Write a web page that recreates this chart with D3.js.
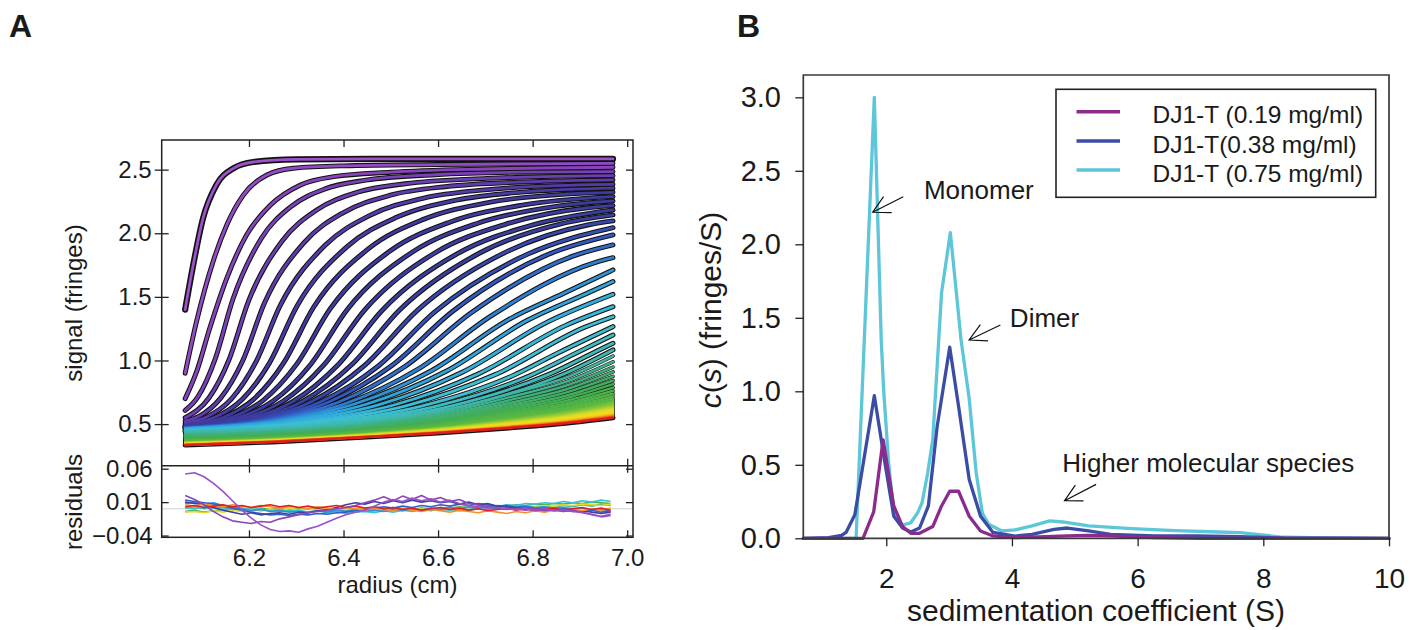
<!DOCTYPE html>
<html><head><meta charset="utf-8">
<script src="https://cdn.jsdelivr.net/npm/d3@7"></script>
<style>body{margin:0;background:#fff}svg{display:block}</style>
</head><body><svg id="chart" width="1410" height="630"></svg>
<script>
// ---------- Panel A: sedimentation velocity scans (radius in cm, signal in fringes) ----------
const scanRadius = [
 [6.065,6.081,6.103,6.131,6.167,6.209,6.3,6.5,6.97],
 [6.065,6.089,6.124,6.153,6.188,6.238,6.294,6.4,6.6,6.97],
 [6.065,6.09,6.117,6.153,6.195,6.245,6.309,6.379,6.5,6.7,6.97],
 [6.065,6.092,6.129,6.166,6.227,6.288,6.361,6.447,6.593,6.776,6.97],
 [6.065,6.116,6.158,6.199,6.271,6.343,6.429,6.53,6.703,6.919,6.97],
 [6.065,6.094,6.14,6.187,6.233,6.316,6.399,6.499,6.615,6.814,6.97],
 [6.065,6.111,6.163,6.215,6.267,6.361,6.455,6.568,6.699,6.925,6.97],
 [6.065,6.129,6.186,6.244,6.302,6.407,6.512,6.638,6.785,6.97],
 [6.065,6.145,6.209,6.273,6.337,6.453,6.569,6.708,6.871,6.97],
 [6.065,6.16,6.23,6.301,6.372,6.499,6.626,6.778,6.97],
 [6.065,6.174,6.252,6.33,6.408,6.546,6.684,6.85,6.97],
 [6.065,6.187,6.273,6.358,6.444,6.593,6.742,6.921,6.97],
 [6.065,6.2,6.294,6.387,6.481,6.641,6.801,6.97],
 [6.065,6.211,6.314,6.416,6.518,6.689,6.86,6.97],
 [6.065,6.222,6.333,6.444,6.555,6.737,6.919,6.97],
 [6.065,6.232,6.352,6.473,6.593,6.786,6.97],
 [6.065,6.24,6.37,6.501,6.631,6.835,6.97],
 [6.065,6.248,6.389,6.529,6.67,6.885,6.97],
 [6.065,6.255,6.406,6.558,6.709,6.935,6.97],
 [6.065,6.261,6.423,6.586,6.748,6.866,6.97],
 [6.065,6.278,6.448,6.618,6.788,6.912,6.97],
 [6.065,6.297,6.474,6.651,6.828,6.97],
 [6.065,6.32,6.503,6.686,6.869,6.97],
 [6.065,6.343,6.532,6.721,6.91,6.97],
 [6.065,6.369,6.563,6.757,6.854,6.97],
 [6.065,6.396,6.595,6.794,6.894,6.97],
 [6.065,6.426,6.629,6.832,6.934,6.97],
 [6.065,6.457,6.664,6.871,6.97]
];
const scanSignal = [
 [1.40,1.73,2.12,2.38,2.51,2.56,2.58,2.585,2.584],
 [0.90,1.305,1.777,2.065,2.30,2.458,2.511,2.53,2.54,2.55],
 [0.70,0.92,1.253,1.646,1.987,2.22,2.38,2.445,2.48,2.505,2.519],
 [0.607,0.714,1.017,1.481,1.965,2.207,2.349,2.417,2.46,2.48,2.484],
 [0.55,0.709,1.008,1.466,1.943,2.182,2.322,2.389,2.431,2.451,2.453],
 [0.525,0.561,0.704,1.0,1.453,1.925,2.161,2.299,2.366,2.407,2.419],
 [0.507,0.557,0.699,0.991,1.439,1.905,2.139,2.275,2.341,2.382,2.385],
 [0.497,0.555,0.696,0.985,1.43,1.893,2.125,2.26,2.325,2.354],
 [0.491,0.552,0.692,0.979,1.42,1.879,2.109,2.243,2.308,2.322],
 [0.487,0.549,0.687,0.971,1.407,1.862,2.089,2.221,2.288],
 [0.483,0.547,0.684,0.967,1.401,1.853,2.079,2.211,2.254],
 [0.48,0.545,0.682,0.963,1.394,1.845,2.07,2.202,2.217],
 [0.478,0.543,0.68,0.961,1.391,1.84,2.066,2.183],
 [0.476,0.542,0.68,0.962,1.395,1.847,2.074,2.144],
 [0.474,0.54,0.678,0.959,1.39,1.84,2.067,2.097],
 [0.474,0.538,0.675,0.955,1.382,1.83,2.044],
 [0.472,0.537,0.676,0.957,1.387,1.837,1.987],
 [0.471,0.535,0.672,0.951,1.375,1.82,1.908],
 [0.468,0.531,0.664,0.933,1.343,1.773,1.808],
 [0.467,0.527,0.658,0.92,1.319,1.528,1.712],
 [0.464,0.526,0.656,0.917,1.314,1.523,1.62],
 [0.459,0.523,0.651,0.907,1.296,1.52],
 [0.455,0.521,0.646,0.896,1.274,1.423],
 [0.451,0.519,0.644,0.889,1.261,1.344],
 [0.447,0.517,0.639,0.879,1.06,1.266],
 [0.443,0.518,0.64,0.88,1.062,1.2],
 [0.44,0.519,0.644,0.887,1.07,1.135],
 [0.437,0.523,0.651,0.902,1.083]
];
const lateRadius = [6.065,6.25,6.45,6.6,6.75,6.87,6.97];
const lateSignal = [
 [0.428,0.451,0.509,0.594,0.734,0.865,1.035],
 [0.419,0.443,0.499,0.579,0.710,0.832,0.990],
 [0.411,0.435,0.489,0.565,0.687,0.801,0.948],
 [0.404,0.428,0.480,0.552,0.666,0.772,0.910],
 [0.397,0.421,0.472,0.540,0.647,0.747,0.875],
 [0.391,0.415,0.465,0.529,0.630,0.723,0.843],
 [0.385,0.410,0.458,0.519,0.614,0.702,0.814],
 [0.380,0.405,0.452,0.510,0.599,0.682,0.787],
 [0.376,0.400,0.447,0.502,0.585,0.663,0.762],
 [0.371,0.396,0.441,0.494,0.573,0.647,0.739],
 [0.367,0.392,0.436,0.487,0.561,0.631,0.718],
 [0.364,0.388,0.432,0.480,0.551,0.617,0.699],
 [0.360,0.385,0.428,0.475,0.542,0.604,0.682],
 [0.357,0.382,0.425,0.469,0.533,0.593,0.666],
 [0.354,0.379,0.421,0.464,0.525,0.581,0.651],
 [0.352,0.376,0.418,0.459,0.517,0.571,0.637],
 [0.349,0.374,0.415,0.455,0.510,0.562,0.624],
 [0.347,0.372,0.412,0.451,0.504,0.553,0.612],
 [0.345,0.370,0.410,0.447,0.498,0.545,0.601],
 [0.343,0.368,0.407,0.444,0.492,0.537,0.591],
 [0.341,0.366,0.405,0.441,0.487,0.531,0.582],
 [0.339,0.364,0.403,0.438,0.482,0.524,0.573],
 [0.338,0.363,0.401,0.435,0.478,0.518,0.565],
 [0.336,0.361,0.400,0.432,0.474,0.512,0.557],
 [0.335,0.360,0.398,0.430,0.470,0.507,0.550]
];
const scanColorIndex = [0,2,5,8,13,16,18,20,23,27,30,34,40,43,45,47,49,50,51,52];
const scanColorHex = ["#9d52cc","#8744bd","#5e3cac","#403a9e","#393f9f","#3358c0","#2f7fd0","#2ea6dc","#3cbfd6","#3fb8b0","#3fb07c","#43ad52","#5cba3e","#a6cf34","#dcdc24","#f2dc1c","#f5c21c","#f39422","#ee5a1e","#e01c1c"];

// residuals (in units of 0.001 fringes) on a 0.02 cm grid
const residualRadius = [6.065,6.085,6.105,6.125,6.145,6.165,6.185,6.205,6.225,6.245,6.265,6.285,6.305,6.325,6.345,6.365,6.385,6.405,6.425,6.445,6.465,6.485,6.505,6.525,6.545,6.565,6.585,6.605,6.625,6.645,6.665,6.685,6.705,6.725,6.745,6.765,6.785,6.805,6.825,6.845,6.865,6.885,6.905,6.925,6.945,6.965];
const residualMilli = [
 [-4,-2,-5,-3,-1,-3,0,-2,1,-1,2,0,1,-1,0,-2,-1,-3,-2,-4,-3,-1,-2,0,-1,1,0,2,1,3,2,4,3,5,4,6,5,7,6,8,7,9,8,10,9,8],
 [1,3,0,2,-1,1,-2,0,-3,-1,-4,-2,-3,-5,-2,-4,-1,-3,0,-2,1,-1,2,0,1,-1,0,-2,-1,-3,-2,0,-1,1,0,2,1,3,4,2,5,3,6,4,7,5],
 [-5,-4,-6,-3,-5,-2,-4,-1,-3,0,-2,1,-1,0,-2,0,-1,1,-1,0,-2,-1,-3,-1,-2,0,-1,1,0,2,1,3,2,4,3,2,4,3,5,4,6,5,7,6,5,7],
 [2,0,3,1,2,-1,1,-2,0,-3,-1,-4,-2,-5,-3,-6,-4,-7,-5,-4,-6,-3,-5,-2,-4,-1,-3,0,-2,1,-1,2,4,3,6,5,8,7,9,8,11,9,12,10,13,11],
 [8,10,7,9,5,3,0,-3,-1,-4,-3,-5,-4,-6,-3,-5,-2,-4,-1,-3,-2,-4,-1,-3,0,-2,1,-1,2,0,3,1,4,2,5,3,4,2,3,1,2,0,1,-2,-1,-3],
 [13,11,9,7,4,1,-2,-5,-7,-9,-8,-10,-8,-9,-7,-8,-6,-5,-3,-1,1,3,1,4,2,5,3,6,4,7,5,8,6,4,5,2,3,0,1,-2,0,-2,-4,-2,-5,-3],
 [10,8,6,2,-2,-5,-8,-6,-9,-7,-6,-8,-5,-6,-3,-1,2,6,9,7,11,8,12,9,13,10,12,9,11,7,10,6,8,4,3,1,0,-2,-1,-3,-2,-4,-3,-5,-7,-5],
 [6,4,7,5,3,6,4,2,5,3,1,4,2,0,3,1,-1,2,0,-2,1,-1,-3,0,-2,-4,-1,-3,-5,-2,-4,-6,-3,-5,-7,-4,-6,-3,-5,-2,-4,-1,-3,0,-2,1],
 [3,5,2,4,6,3,5,2,4,6,3,5,2,4,1,3,5,2,4,1,3,0,2,-1,1,-2,0,2,-1,1,-2,0,-3,-1,1,-2,0,-3,-1,1,-2,0,2,-1,1,-2],
 [20,14,6,-4,-12,-18,-20,-22,-19,-20,-15,-12,-9,-6,-4,-2,0,2,5,9,13,18,12,19,14,20,13,17,11,14,8,6,3,1,-1,0,-2,0,-3,-1,-4,-2,-5,-8,-12,-10],
 [52,54,48,38,26,12,-2,-14,-24,-31,-34,-33,-35,-30,-26,-20,-14,-9,-5,-2,4,10,14,11,16,12,15,10,13,8,5,3,1,2,0,-1,1,-2,0,-3,-2,-4,-6,-9,-11,-8]
];
const residualColors = ["#4bb043","#3fb5ac","#e8d820","#38c0e0","#2f8fd8","#2f60c8","#4040a0","#f09030","#e02020","#8a45b8","#9a50c8"];

const radiusTicks = [6.2,6.4,6.6,6.8,7.0];
const signalTicks = [0.5,1.0,1.5,2.0,2.5];
const residualTicks = [0.06,0.01,-0.04];

// ---------- Panel B: c(s) distributions ----------
const seriesNames = ["DJ1-T (0.19 mg/ml)","DJ1-T(0.38 mg/ml)","DJ1-T (0.75 mg/ml)"];
const seriesColors = ["#8b2b8c","#3b4ca6","#5ec6d9"];
const sLow = [0.68,1.63,1.80,1.95,2.12,2.26,2.39,2.53,2.74,2.88,3.01,3.15,3.32,3.50,3.70,4.05,4.88,5.22,5.57,6.26,7.0,10.0];
const cLow = [0,0,0.18,0.67,0.22,0.08,0.034,0.034,0.08,0.22,0.32,0.32,0.15,0.05,0.016,0.005,0.016,0.02,0.016,0.005,0,0];
const sMid = [0.68,1.08,1.29,1.36,1.50,1.81,1.98,2.12,2.26,2.39,2.53,2.67,2.81,3.01,3.15,3.32,3.50,3.70,4.05,4.32,4.67,4.88,5.22,5.57,6.26,6.94,7.63,8.32,10.0];
const cMid = [0,0.005,0.02,0.04,0.16,0.97,0.51,0.15,0.07,0.043,0.07,0.22,0.76,1.30,0.9,0.4,0.15,0.04,0.015,0.027,0.06,0.07,0.05,0.027,0.016,0.016,0.011,0.002,0];
const sHigh = [0.68,1.52,1.81,1.92,1.96,2.04,2.11,2.19,2.26,2.39,2.50,2.57,2.66,2.74,2.88,3.02,3.19,3.32,3.43,3.53,3.63,3.84,4.05,4.32,4.60,4.81,5.22,5.91,6.60,7.29,7.63,7.98,8.32,9.01,10.0];
const cHigh = [0,0,3.0,1.35,1.0,0.5,0.22,0.12,0.09,0.106,0.174,0.242,0.446,0.672,1.67,2.08,1.35,0.95,0.45,0.17,0.095,0.05,0.057,0.084,0.118,0.111,0.084,0.066,0.052,0.043,0.038,0.023,0.007,0.002,0];
const sTicks = [2,4,6,8,10];
const cTicks = [0,0.5,1.0,1.5,2.0,2.5,3.0];
const annoText = ["Monomer","Dimer","Higher molecular species"];
const annoAt = [[2.60,2.308],[3.967,1.437],[4.802,0.453]];
const arrowFrom = [[2.27,2.324],[3.816,1.451],[5.339,0.367]];
const arrowTo = [[1.784,2.218],[3.318,1.349],[4.837,0.256]];

// ---------- drawing ----------
const FONT = "'Liberation Sans', Arial, Helvetica, sans-serif";
const INK = "#1a1a1a";
const svg = d3.select("#chart");

function styleAxis(g, size) {
  g.attr("font-family", FONT);
  g.selectAll("text").attr("font-size", size).attr("fill", INK);
  g.selectAll(".tick line").attr("stroke", "#222").attr("stroke-width", 1.3);
  g.select(".domain").remove();
}

// Panel A scales
const xA = d3.scaleLinear().domain([6.0154, 7.0123]).range([161.7, 633]);
const yA = d3.scaleLinear().domain([0.173, 2.733]).range([465.7, 140]);
const yR = d3.scaleLinear().domain([-0.0426, 0.0645]).range([537.3, 465.7]);

const scanColor = d3.scaleLinear().domain(scanColorIndex).range(scanColorHex).interpolate(d3.interpolateRgb);
const lineA = d3.line().x(d => xA(d[0])).y(d => yA(d[1])).curve(d3.curveMonotoneX);

const upper = scanRadius.map((rs, i) => rs.map((r, j) => [r, scanSignal[i][j]]));
const lower = lateSignal.map(vs => vs.map((v, j) => [lateRadius[j], v]));
const allScans = upper.concat(lower);
const nUp = upper.length, nAll = allScans.length;
const gBlack = svg.append("g"), gColor = svg.append("g");
allScans.forEach((pts, i) => {
  const d = lineA(pts);
  const isUp = i < nUp;
  gBlack.append("path").attr("d", d).attr("fill", "none").attr("stroke", "#121212")
    .attr("stroke-width", i === 0 ? 6.2 : (isUp ? 4.9 : (i === nAll - 1 ? 5 : 3.6)))
    .attr("stroke-linecap", "round").attr("stroke-linejoin", "round");
  gColor.append("path").attr("d", d).attr("fill", "none").attr("stroke", scanColor(i))
    .attr("stroke-width", isUp ? 2.8 : 2.5).attr("stroke-linecap", "round").attr("stroke-linejoin", "round");
});

// residuals
svg.append("line").attr("x1", 161.7).attr("x2", 633).attr("y1", yR(0)).attr("y2", yR(0))
  .attr("stroke", "#cfcfcf").attr("stroke-width", 1);
const lineR = d3.line().x((d, i) => xA(residualRadius[i])).y(d => yR(d / 1000));
residualMilli.forEach((vals, i) => {
  svg.append("path").attr("d", lineR(vals)).attr("fill", "none").attr("stroke", residualColors[i])
    .attr("stroke-width", 1.6).attr("stroke-linejoin", "round");
});

// Panel A frame
const frameA = svg.append("g").attr("stroke", "#222").attr("stroke-width", 1.5).attr("fill", "none");
frameA.append("rect").attr("x", 161.7).attr("y", 140).attr("width", 633 - 161.7).attr("height", 537.3 - 140);
frameA.append("line").attr("x1", 161.7).attr("x2", 633).attr("y1", 465.7).attr("y2", 465.7);

// Panel A axes
styleAxis(svg.append("g").attr("transform", "translate(161.7,0)")
  .call(d3.axisLeft(yA).tickValues(signalTicks).tickFormat(d3.format(".1f")).tickSize(7).tickPadding(3)), 24);
styleAxis(svg.append("g").attr("transform", "translate(161.7,0)")
  .call(d3.axisRight(yA).tickValues(signalTicks).tickFormat("").tickSize(7)), 24);
styleAxis(svg.append("g").attr("transform", "translate(633,0)")
  .call(d3.axisLeft(yA).tickValues(signalTicks).tickFormat("").tickSize(7)), 24);
styleAxis(svg.append("g").attr("transform", "translate(0,140)")
  .call(d3.axisBottom(xA).tickValues(radiusTicks).tickFormat("").tickSize(7)), 24);
styleAxis(svg.append("g").attr("transform", "translate(0,465.7)")
  .call(d3.axisBottom(xA).tickValues(radiusTicks).tickFormat("").tickSize(7)), 24);
styleAxis(svg.append("g").attr("transform", "translate(0,465.7)")
  .call(d3.axisTop(xA).tickValues(radiusTicks).tickFormat("").tickSize(7)), 24);
styleAxis(svg.append("g").attr("transform", "translate(161.7,0)")
  .call(d3.axisLeft(yR).tickValues(residualTicks).tickFormat(d3.format(".2f")).tickSizeInner(-7).tickSizeOuter(0).tickPadding(9)), 24);
styleAxis(svg.append("g").attr("transform", "translate(633,0)")
  .call(d3.axisLeft(yR).tickValues(residualTicks).tickFormat("").tickSize(7)), 24);
styleAxis(svg.append("g").attr("transform", "translate(0,537.3)")
  .call(d3.axisBottom(xA).tickValues(radiusTicks).tickFormat(d3.format(".1f")).tickSizeInner(-7).tickSizeOuter(0).tickPadding(11.5)), 24);

// Panel A titles
svg.append("text").attr("transform", "translate(82,303) rotate(-90)").attr("text-anchor", "middle")
  .attr("font-family", FONT).attr("font-size", 24).attr("fill", INK).text("signal (fringes)");
svg.append("text").attr("transform", "translate(82,502) rotate(-90)").attr("text-anchor", "middle")
  .attr("font-family", FONT).attr("font-size", 24).attr("fill", INK).text("residuals");
svg.append("text").attr("x", 397.5).attr("y", 593).attr("text-anchor", "middle")
  .attr("font-family", FONT).attr("font-size", 24).attr("fill", INK).text("radius (cm)");

// Panel B
const xB = d3.scaleLinear().domain([0.68, 10]).range([803.3, 1389]);
const yB = d3.scaleLinear().domain([0, 3.1517]).range([538.3, 75]);
const lineB = d3.line().x(d => xB(d[0])).y(d => yB(d[1])).curve(d3.curveLinear);
const seriesS = [sLow, sMid, sHigh];
const seriesC = [cLow, cMid, cHigh];
[2, 1, 0].forEach(i => {
  const pts = seriesS[i].map((s, j) => [s, seriesC[i][j]]);
  svg.append("path").attr("d", lineB(pts)).attr("fill", "none").attr("stroke", seriesColors[i])
    .attr("stroke-width", 3.3).attr("stroke-linejoin", "round").attr("stroke-linecap", "round");
});

const frameB = svg.append("g").attr("stroke", "#3a3a3a").attr("stroke-width", 1.7).attr("fill", "none");
frameB.append("path").attr("d", `M${xB(0.68)},${yB(0)}V75H1389V${yB(0)}Z`);

styleAxis(svg.append("g").attr("transform", `translate(${xB(0.68)},0)`)
  .call(d3.axisLeft(yB).tickValues(cTicks).tickFormat(d3.format(".1f")).tickSize(8).tickPadding(14.3)), 29);
styleAxis(svg.append("g").attr("transform", `translate(0,${yB(0)})`)
  .call(d3.axisBottom(xB).tickValues(sTicks).tickFormat(d3.format("d")).tickSize(8).tickPadding(21.5)), 28);

const yLab = svg.append("text").attr("transform", "translate(721,310) rotate(-90)").attr("text-anchor", "middle")
  .attr("font-family", FONT).attr("font-size", 30).attr("fill", INK);
yLab.append("tspan").attr("font-style", "italic").text("c");
yLab.append("tspan").text("(");
yLab.append("tspan").attr("font-style", "italic").text("s");
yLab.append("tspan").text(") (fringes/S)");
svg.append("text").attr("x", 1096).attr("y", 621).attr("text-anchor", "middle")
  .attr("font-family", FONT).attr("font-size", 30).attr("fill", INK).text("sedimentation coefficient (S)");

// legend
const leg = svg.append("g");
leg.append("rect").attr("x", 1056).attr("y", 89.3).attr("width", 1375.7 - 1056).attr("height", 197.3 - 89.3)
  .attr("fill", "#fff").attr("stroke", "#222").attr("stroke-width", 1.6);
seriesNames.forEach((name, i) => {
  const base = 123.3 + i * 29.2;
  leg.append("line").attr("x1", 1076.5).attr("x2", 1120).attr("y1", base - 11.6).attr("y2", base - 11.6)
    .attr("stroke", seriesColors[i]).attr("stroke-width", 3.5);
  leg.append("text").attr("x", 1152.5).attr("y", base).attr("font-family", FONT).attr("font-size", 24.5)
    .attr("fill", INK).text(name);
});

// annotations with open arrows
annoText.forEach((t, i) => {
  svg.append("text").attr("x", xB(annoAt[i][0])).attr("y", yB(annoAt[i][1]))
    .attr("font-family", FONT).attr("font-size", 26).attr("fill", INK).text(t);
  const x1 = xB(arrowFrom[i][0]), y1 = yB(arrowFrom[i][1]);
  const x2 = xB(arrowTo[i][0]), y2 = yB(arrowTo[i][1]);
  const ang = Math.atan2(y1 - y2, x1 - x2), L = 19, a = 28 * Math.PI / 180;
  const p1 = [x2 + L * Math.cos(ang + a), y2 + L * Math.sin(ang + a)];
  const p2 = [x2 + L * Math.cos(ang - a), y2 + L * Math.sin(ang - a)];
  svg.append("path").attr("d", `M${x1},${y1}L${x2},${y2}M${p1[0]},${p1[1]}L${x2},${y2}L${p2[0]},${p2[1]}`)
    .attr("fill", "none").attr("stroke", "#111").attr("stroke-width", 1.2);
});

// panel letters
svg.append("text").attr("x", 9).attr("y", 37.3).attr("font-family", FONT).attr("font-weight", "bold")
  .attr("font-size", 32).attr("fill", "#1a1a1a").text("A");
svg.append("text").attr("x", 737).attr("y", 37.3).attr("font-family", FONT).attr("font-weight", "bold")
  .attr("font-size", 32).attr("fill", "#1a1a1a").text("B");
</script></body></html>
